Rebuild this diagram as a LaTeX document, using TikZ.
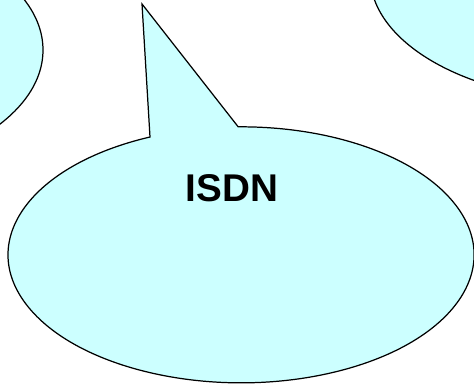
\documentclass[tikz,border=0pt]{standalone}
\usepackage{fontspec}
\setmainfont{Liberation Sans}
\usepackage{xcolor}
\usepackage{tikz}
\definecolor{bubble}{HTML}{CCFFFF}

\begin{document}
\begin{tikzpicture}[x=0.02cm, y=0.02cm, line width=0.7pt,
    cloud/.style={draw=black, fill=bubble}]
        \useasboundingbox (0,0) rectangle (474,-385);
        \clip (0,0) rectangle (474,-385);

        \draw[cloud] (-190,-50) ellipse [x radius=233, y radius=128];
        \draw[cloud] (600,25) ellipse [x radius=230, y radius=126];

        \coordinate (tip) at (142,-4);
        \draw[cloud] (150,-137) arc [start angle=113, end angle=450.7,
            x radius=233, y radius=128] -- (tip) -- cycle;

        \node [font=\bfseries\fontsize{22}{26}\selectfont] (isdn) at (232,-188) {ISDN};
    \end{tikzpicture}
\end{document}
